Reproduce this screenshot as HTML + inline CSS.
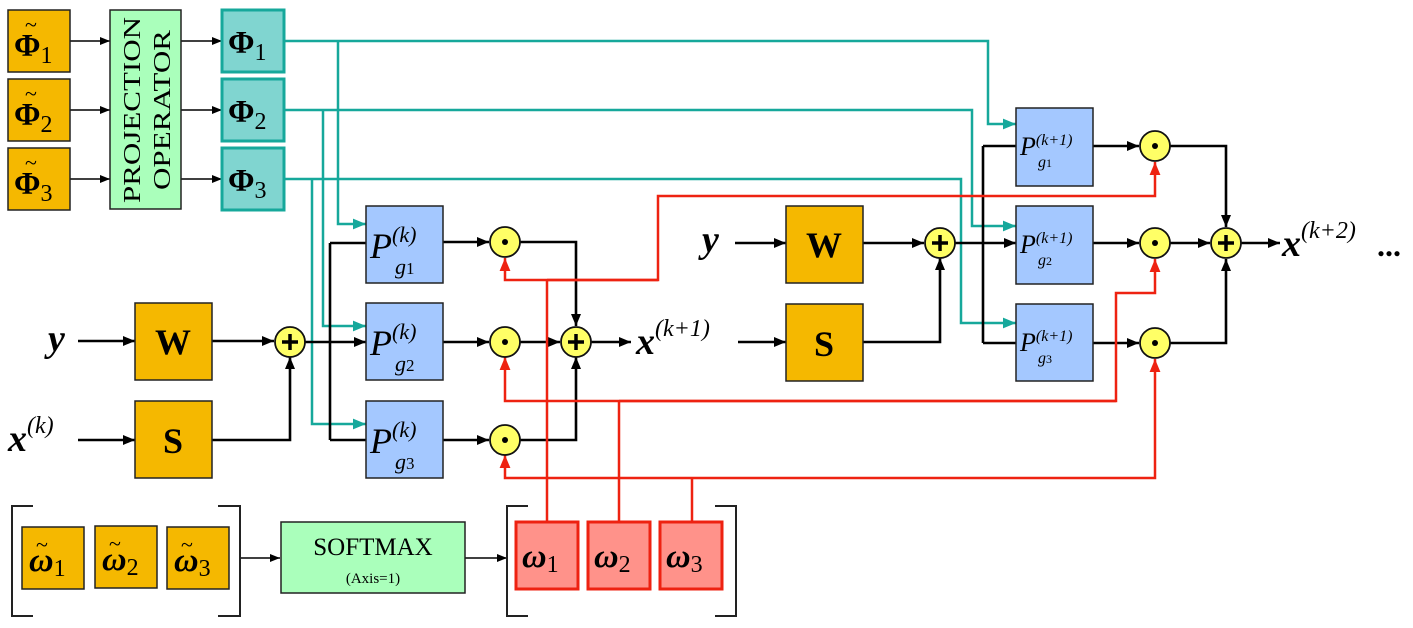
<!DOCTYPE html>
<html><head><meta charset="utf-8"><style>
html,body{margin:0;padding:0;background:#fff;}
svg{display:block;}
text{font-family:"Liberation Serif","DejaVu Serif",serif;fill:#000;}
.bx{font-weight:bold;}
.it{font-style:italic;}
</style></head><body>
<svg width="1413" height="628" viewBox="0 0 1413 628" xmlns="http://www.w3.org/2000/svg">
<defs>
<marker id="ab" viewBox="0 0 12 10" refX="12" refY="5" markerWidth="12" markerHeight="10" markerUnits="userSpaceOnUse" orient="auto"><path d="M0,0 L12,5 L0,10 z" fill="#000"/></marker>
<marker id="as" viewBox="0 0 10 8" refX="10" refY="4" markerWidth="10" markerHeight="8" markerUnits="userSpaceOnUse" orient="auto"><path d="M0,0 L10,4 L0,8 z" fill="#000"/></marker>
<marker id="at" viewBox="0 0 12 10" refX="12" refY="5" markerWidth="13" markerHeight="11" markerUnits="userSpaceOnUse" orient="auto"><path d="M0,0 L12,5 L0,10 z" fill="#16a89b"/></marker>
<marker id="ar" viewBox="0 0 12 10" refX="12" refY="5" markerWidth="13" markerHeight="11" markerUnits="userSpaceOnUse" orient="auto"><path d="M0,0 L12,5 L0,10 z" fill="#ee2211"/></marker>
</defs>

<g stroke="#000" stroke-width="1.5" fill="none" marker-end="url(#as)">
<line x1="70" y1="41" x2="110" y2="41"/><line x1="70" y1="110" x2="110" y2="110"/><line x1="70" y1="179" x2="110" y2="179"/>
<line x1="181" y1="41" x2="222" y2="41"/><line x1="181" y1="110" x2="222" y2="110"/><line x1="181" y1="179" x2="222" y2="179"/>
<line x1="240" y1="558" x2="280" y2="558"/><line x1="465" y1="558" x2="507" y2="558"/>
</g>

<g stroke="#16a89b" stroke-width="2.5" fill="none" marker-end="url(#at)">
<polyline points="284,41 988,41 988,124 1016,124"/>
<polyline points="338,41 338,224 366,224"/>
<polyline points="284,110 972,110 972,226 1016,226"/>
<polyline points="323,110 323,326 366,326"/>
<polyline points="284,179 961,179 961,323 1016,323"/>
<polyline points="312,179 312,424 366,424"/>
</g>

<g stroke="#000" stroke-width="2.6" fill="none">
<polyline points="330,243 330,440"/>
<polyline points="330,243 366,243"/><polyline points="330,440 366,440"/>
<polyline points="520,242 576,242 576,326" marker-end="url(#ab)"/>
<polyline points="520,440 576,440 576,357" marker-end="url(#ab)"/>
<polyline points="983,146 983,343"/>
<polyline points="983,146 1016,146"/><polyline points="983,343 1016,343"/>
<polyline points="1170,146 1226,146 1226,227" marker-end="url(#ab)"/>
<polyline points="1170,343 1226,343 1226,259" marker-end="url(#ab)"/>
<polyline points="212,440 290,440 290,357" marker-end="url(#ab)"/>
<polyline points="862,342 940,342 940,258" marker-end="url(#ab)"/>
</g>
<g stroke="#000" stroke-width="2.6" fill="none" marker-end="url(#ab)">
<line x1="78" y1="341" x2="135" y2="341"/>
<line x1="212" y1="341" x2="274" y2="341"/>
<line x1="78" y1="440" x2="135" y2="440"/>
<line x1="305" y1="342" x2="366" y2="342"/>
<line x1="443" y1="242" x2="489" y2="242"/>
<line x1="443" y1="342" x2="489" y2="342"/>
<line x1="443" y1="440" x2="489" y2="440"/>
<line x1="520" y1="342" x2="560" y2="342"/>
<line x1="591" y1="342" x2="631" y2="342"/>
<line x1="738" y1="342" x2="786" y2="342"/>
<line x1="735" y1="243" x2="786" y2="243"/>
<line x1="862" y1="243" x2="924" y2="243"/>
<line x1="955" y1="243" x2="1016" y2="243"/>
<line x1="1093" y1="146" x2="1139" y2="146"/>
<line x1="1093" y1="243" x2="1139" y2="243"/>
<line x1="1093" y1="343" x2="1139" y2="343"/>
<line x1="1170" y1="243" x2="1210" y2="243"/>
<line x1="1241" y1="243" x2="1280" y2="243"/>
</g>

<g stroke="#ee2211" stroke-width="2.5" fill="none">
<polyline points="547,522 547,280"/>
<polyline points="658,280 505,280 505,258" marker-end="url(#ar)"/>
<polyline points="547,280 658,280 658,196 1155,196 1155,162" marker-end="url(#ar)"/>
<polyline points="619,522 619,401"/>
<polyline points="1116,401 505,401 505,357" marker-end="url(#ar)"/>
<polyline points="619,401 1116,401 1116,293 1155,293 1155,259" marker-end="url(#ar)"/>
<polyline points="692,522 692,478"/>
<polyline points="692,478 505,478 505,455" marker-end="url(#ar)"/>
<polyline points="692,478 1155,478 1155,359" marker-end="url(#ar)"/>
</g>

<g stroke="#222" stroke-width="1.5" fill="#f5b800">
<rect x="8" y="10" width="62" height="62"/><rect x="8" y="79" width="62" height="62"/><rect x="8" y="148" width="62" height="62"/>
</g>
<g font-size="32" class="bx">
<text x="14" y="56">Φ<tspan font-weight="normal" font-size="24" dy="7">1</tspan></text>
<text x="14" y="125">Φ<tspan font-weight="normal" font-size="24" dy="7">2</tspan></text>
<text x="14" y="194">Φ<tspan font-weight="normal" font-size="24" dy="7">3</tspan></text>
</g>
<g font-size="22" text-anchor="middle">
<text x="31" y="32">~</text><text x="31" y="101">~</text><text x="31" y="170">~</text>
</g>
<rect x="110" y="10" width="71" height="199" fill="#aaffbb" stroke="#222" stroke-width="1.5"/>
<g transform="translate(145,110) rotate(-90)" font-size="24" text-anchor="middle">
<text x="0" y="-5" textLength="186" lengthAdjust="spacingAndGlyphs">PROJECTION</text>
<text x="0" y="25" textLength="160" lengthAdjust="spacingAndGlyphs">OPERATOR</text>
</g>
<g stroke="#16a89b" stroke-width="3" fill="#80d5d0">
<rect x="222" y="10" width="62" height="62"/><rect x="222" y="79" width="62" height="62"/><rect x="222" y="148" width="62" height="62"/>
</g>
<g font-size="32" class="bx">
<text x="228" y="53">Φ<tspan font-weight="normal" font-size="24" dy="7">1</tspan></text>
<text x="228" y="122">Φ<tspan font-weight="normal" font-size="24" dy="7">2</tspan></text>
<text x="228" y="191">Φ<tspan font-weight="normal" font-size="24" dy="7">3</tspan></text>
</g>

<g stroke="#222" stroke-width="1.5" fill="#f5b800">
<rect x="135" y="303" width="77" height="77"/><rect x="135" y="401" width="77" height="77"/>
<rect x="786" y="206" width="77" height="77"/><rect x="786" y="304" width="77" height="77"/>
</g>
<g font-size="36" class="bx" text-anchor="middle">
<text x="173" y="354">W</text><text x="173" y="453">S</text>
<text x="824" y="257">W</text><text x="824" y="356">S</text>
</g>

<g stroke="#222" stroke-width="1.5" fill="#a4c8ff">
<rect x="366" y="206" width="77" height="77"/><rect x="366" y="303" width="77" height="77"/><rect x="366" y="401" width="77" height="77"/>
<rect x="1016" y="108" width="77" height="78"/><rect x="1016" y="206" width="77" height="78"/><rect x="1016" y="304" width="77" height="77"/>
</g>
<g font-size="36" class="it">
<text x="370" y="258">P<tspan font-size="22" dx="0" dy="-16">(k)</tspan><tspan font-size="22" x="395" dy="32">g<tspan font-style="normal" font-size="17">1</tspan></tspan></text>
<text x="370" y="355">P<tspan font-size="22" dx="0" dy="-16">(k)</tspan><tspan font-size="22" x="395" dy="32">g<tspan font-style="normal" font-size="17">2</tspan></tspan></text>
<text x="370" y="453">P<tspan font-size="22" dx="0" dy="-16">(k)</tspan><tspan font-size="22" x="395" dy="32">g<tspan font-style="normal" font-size="17">3</tspan></tspan></text>
</g>
<g font-size="26" class="it">
<text x="1020" y="155">P<tspan font-size="16" dy="-10">(k+1)</tspan><tspan font-size="16" x="1038" dy="22">g<tspan font-style="normal" font-size="12">1</tspan></tspan></text>
<text x="1020" y="253">P<tspan font-size="16" dy="-10">(k+1)</tspan><tspan font-size="16" x="1038" dy="22">g<tspan font-style="normal" font-size="12">2</tspan></tspan></text>
<text x="1020" y="351">P<tspan font-size="16" dy="-10">(k+1)</tspan><tspan font-size="16" x="1038" dy="22">g<tspan font-style="normal" font-size="12">3</tspan></tspan></text>
</g>

<g stroke="#111" stroke-width="1.8" fill="#ffff66">
<circle cx="290" cy="342" r="15"/><circle cx="576" cy="342" r="15"/><circle cx="940" cy="243" r="15"/><circle cx="1226" cy="243" r="15"/>
<circle cx="505" cy="242" r="15"/><circle cx="505" cy="342" r="15"/><circle cx="505" cy="440" r="15"/>
<circle cx="1155" cy="146" r="15"/><circle cx="1155" cy="243" r="15"/><circle cx="1155" cy="343" r="15"/>
</g>
<g fill="#000">
<circle cx="505" cy="242" r="3"/><circle cx="505" cy="342" r="3"/><circle cx="505" cy="440" r="3"/>
<circle cx="1155" cy="146" r="3"/><circle cx="1155" cy="243" r="3"/><circle cx="1155" cy="343" r="3"/>
</g>
<g stroke="#000" stroke-width="3.5">
<path d="M282,342h16M290,334v16"/><path d="M568,342h16M576,334v16"/><path d="M932,243h16M940,235v16"/><path d="M1218,243h16M1226,235v16"/>
</g>

<g class="it bx" font-size="38">
<text x="48" y="351">y</text>
<text x="702" y="252">y</text>
<text x="8" y="451">x<tspan font-weight="normal" font-size="24" dy="-18">(k)</tspan></text>
<text x="636" y="354">x<tspan font-weight="normal" font-size="24" dy="-18">(k+1)</tspan></text>
<text x="1282" y="256">x<tspan font-weight="normal" font-size="24" dy="-18">(k+2)</tspan></text>
</g>
<text x="1377" y="256" font-size="32" class="bx">...</text>

<g stroke="#222" stroke-width="2" fill="none">
<polyline points="33,506 12,506 12,616 33,616"/>
<polyline points="218,506 240,506 240,616 218,616"/>
<polyline points="528,506 507,506 507,616 528,616"/>
<polyline points="715,506 736,506 736,616 715,616"/>
</g>
<g stroke="#222" stroke-width="1.5" fill="#f5b800">
<rect x="22" y="527" width="62" height="62"/><rect x="95" y="526" width="62" height="62"/><rect x="167" y="527" width="62" height="62"/>
</g>
<g font-size="34" class="it bx">
<text x="29" y="571">ω<tspan font-weight="normal" font-style="normal" font-size="24" dy="5">1</tspan></text>
<text x="102" y="570">ω<tspan font-weight="normal" font-style="normal" font-size="24" dy="5">2</tspan></text>
<text x="174" y="571">ω<tspan font-weight="normal" font-style="normal" font-size="24" dy="5">3</tspan></text>
</g>
<g font-size="22" text-anchor="middle">
<text x="42" y="552">~</text><text x="115" y="551">~</text><text x="187" y="552">~</text>
</g>
<rect x="281" y="522" width="184" height="71" fill="#aaffbb" stroke="#222" stroke-width="1.5"/>
<text x="373" y="555" font-size="25" text-anchor="middle">SOFTMAX</text>
<text x="373" y="583" font-size="15" text-anchor="middle">(Axis=1)</text>
<g stroke="#ee2211" stroke-width="3" fill="#ff928a">
<rect x="516" y="522" width="62" height="67"/><rect x="588" y="522" width="62" height="67"/><rect x="660" y="522" width="62" height="67"/>
</g>
<g font-size="34" class="it bx">
<text x="522" y="567">ω<tspan font-weight="normal" font-style="normal" font-size="24" dy="5">1</tspan></text>
<text x="594" y="567">ω<tspan font-weight="normal" font-style="normal" font-size="24" dy="5">2</tspan></text>
<text x="666" y="567">ω<tspan font-weight="normal" font-style="normal" font-size="24" dy="5">3</tspan></text>
</g>
</svg>
</body></html>
